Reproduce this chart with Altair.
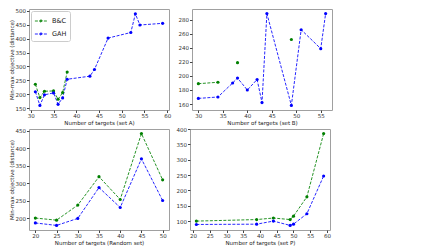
import altair as alt
import pandas as pd

SERIES = ["B&C", "GAH"]
COLORS = ["green", "blue"]

# Panel A (set A)
A_x_bc = [31, 32, 33, 35, 36, 37, 38]
A_bc = [236, 188, 211, 212, 182, 206, 280]
A_x_gah = [31, 32, 33, 35, 36, 37, 38, 43, 44, 47, 52, 53, 54, 59]
A_gah = [209, 160, 198, 205, 164, 187, 254, 265, 289, 402, 422, 489, 449, 455]

# Panel B (set B) - B&C has gaps
B_x_bc = [30, 34, 38, 49]
B_bc = [189, 191, 219, 252]
B_seg_bc = [0, 0, 1, 2]
B_x_gah = [30, 34, 37, 38, 40, 42, 43, 44, 49, 51, 55, 56]
B_gah = [168, 170, 190, 197, 180, 195, 162, 289, 158, 266, 239, 289]

# Panel C (Random set)
C_x = [20, 25, 30, 35, 40, 45, 50]
C_bc = [201, 195, 238, 319, 254, 442, 310]
C_gah = [187, 180, 200, 288, 231, 370, 251]

# Panel D (set P)
D_x = [21, 39, 44, 49, 50, 54, 59]
D_bc = [100, 105, 110, 105, 116, 179, 385]
D_gah = [89, 90, 100, 86, 90, 124, 247]


def frame(xb, yb, xg, yg, segb=None):
    rows = []
    for i, (a, b) in enumerate(zip(xb, yb)):
        rows.append({"x": a, "y": b, "series": "B&C", "seg": "B&C-%d" % (segb[i] if segb else 0)})
    for a, b in zip(xg, yg):
        rows.append({"x": a, "y": b, "series": "GAH", "seg": "GAH-0"})
    return pd.DataFrame(rows)


def panel(df, xdom, ydom, xticks, yticks, xtitle, ytitle, legend=False):
    x = alt.X("x:Q", scale=alt.Scale(domain=xdom, nice=False, zero=False),
              axis=alt.Axis(values=xticks, title=xtitle))
    y = alt.Y("y:Q", scale=alt.Scale(domain=ydom, nice=False, zero=False),
              axis=alt.Axis(values=yticks, title=ytitle if ytitle else None))
    if legend:
        lg = alt.Legend(title=None, orient="top-left", offset=2)
    else:
        lg = None
    color = alt.Color("series:N", scale=alt.Scale(domain=SERIES, range=COLORS), legend=lg)
    base = alt.Chart(df)
    line = base.mark_line(strokeDash=[3, 1.5], strokeWidth=1, opacity=0.85).encode(
        x=x, y=y, color=color, detail="seg:N")
    pts = base.mark_point(filled=True, size=10, opacity=1, shape="circle").encode(
        x=x, y=y, color=color)
    return alt.layer(line, pts).properties(width=140, height=101)


pA = panel(frame(A_x_bc, A_bc, A_x_gah, A_gah), [29.6, 60.4], [143.5, 506.5],
           [30, 35, 40, 45, 50, 55, 60], [150, 200, 250, 300, 350, 400, 450, 500],
           "Number of targets (set A)", "Min-max objective (distance)", legend=True)
pB = panel(frame(B_x_bc, B_bc, B_x_gah, B_gah, B_seg_bc), [28.7, 57.3], [151.45, 295.55],
           [30, 35, 40, 45, 50, 55], [160, 180, 200, 220, 240, 260, 280],
           "Number of targets (set B)", None)
pC = panel(frame(C_x, C_bc, C_x, C_gah), [18.5, 51.5], [166.9, 455.1],
           [20, 25, 30, 35, 40, 45, 50], [200, 250, 300, 350, 400, 450],
           "Number of targets (Random set)", "Min-max objective (distance)")
pD = panel(frame(D_x, D_bc, D_x, D_gah), [19.1, 60.9], [71, 400],
           [20, 25, 30, 35, 40, 45, 50, 55, 60], [100, 150, 200, 250, 300, 350, 400],
           "Number of targets (set P)", None)

top = alt.hconcat(pA, pB, spacing=5).resolve_scale(color="independent")
bot = alt.hconcat(pC, pD, spacing=5).resolve_scale(color="independent")
chart = alt.vconcat(top, bot, spacing=0).resolve_scale(color="independent").properties(
    padding=0
).configure_view(
    stroke="#a0a0a0", strokeWidth=1
).configure_axis(
    grid=False, domain=False, labelFont="DejaVu Sans", titleFont="DejaVu Sans",
    labelFontSize=5.5, titleFontSize=5.5, titleFontWeight="normal",
    labelColor="#333333", titleColor="#222222", tickColor="#444444",
    tickSize=2.5, labelPadding=1, titlePadding=1
).configure_legend(
    labelFont="DejaVu Sans", labelFontSize=6.5, labelColor="#222222",
    fillColor="white", strokeColor="#cccccc", cornerRadius=2, padding=3,
    rowPadding=2, labelOffset=4,
    symbolType="M-1,0H1M-0.15,-0.15H0.15V0.15H-0.15Z", symbolSize=150,
    symbolStrokeWidth=1, symbolDash=[3, 1.5]
)

chart.save("out.html", embed_options={"renderer": "svg", "actions": False})
